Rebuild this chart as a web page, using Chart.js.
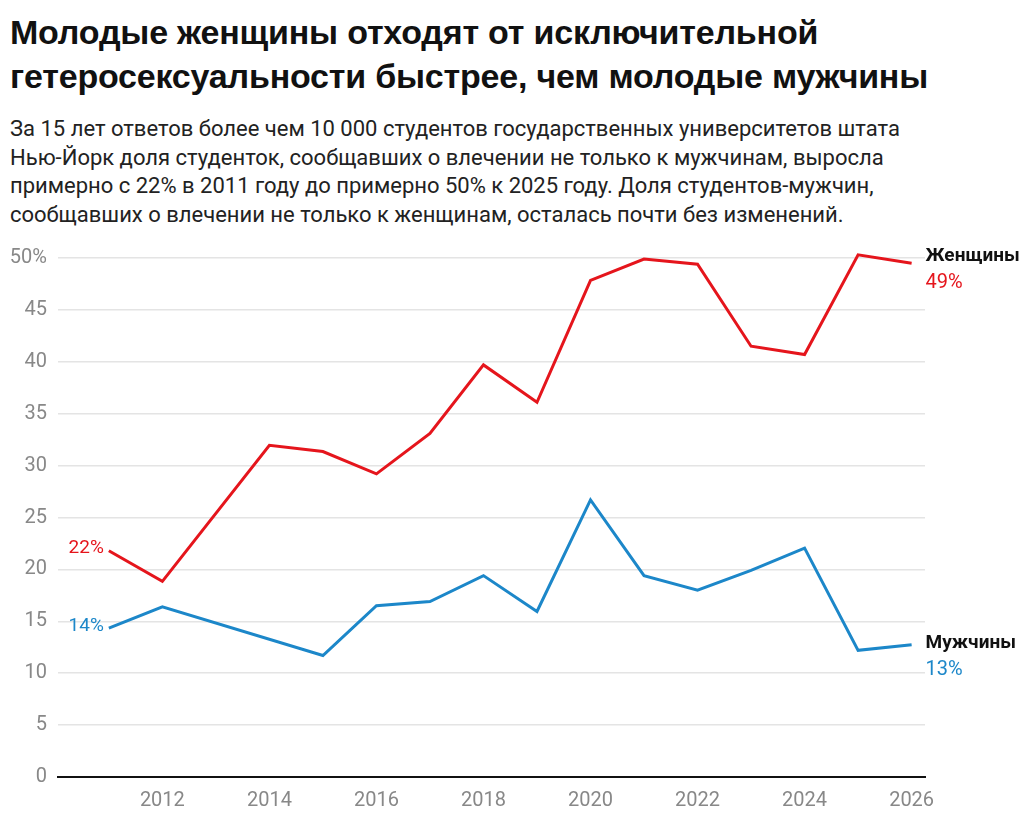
<!DOCTYPE html>
<html lang="ru">
<head>
<meta charset="utf-8">
<title>Молодые женщины</title>
<script src="https://cdn.jsdelivr.net/npm/chart.js@4"></script>
<style>
    body { margin: 0; background: #fff; width: 1024px; height: 830px; overflow: hidden; position: relative; }
    #title { position: absolute; left: 10px; top: 10px; font: bold 34px "Liberation Sans", Arial, sans-serif; line-height: 44px; color: #111; letter-spacing: -0.2px; }
    #subtitle { position: absolute; left: 10px; top: 115px; font: 22px Roboto, sans-serif; line-height: 28.5px; color: #222; }
    #wrap { position: absolute; left: 0; top: 235px; width: 1024px; height: 595px; }
</style>
</head>
<body>
<div id="title">Молодые женщины отходят от исключительной<br>гетеросексуальности быстрее, чем молодые мужчины</div>
<div id="subtitle">За 15 лет ответов более чем 10 000 студентов государственных университетов штата<br>Нью-Йорк доля студенток, сообщавших о влечении не только к мужчинам, выросла<br>примерно с 22% в 2011 году до примерно 50% к 2025 году. Доля студентов-мужчин,<br>сообщавших о влечении не только к женщинам, осталась почти без изменений.</div>
<div id="wrap"><canvas id="chart"></canvas></div>
<script>
// данные
const years = [2011, 2012, 2013, 2014, 2015, 2016, 2017, 2018, 2019, 2020, 2021, 2022, 2023, 2024, 2025, 2026];
const women = [21.8, 18.85, null, 31.95, 31.35, 29.2, 33.1, 39.7, 36.1, 47.85, 49.9, 49.4, 41.5, 40.7, 50.3, 49.5];
const men = [14.35, 16.4, null, null, 11.7, 16.5, 16.9, 19.4, 15.95, 26.7, 19.4, 18.0, 19.9, 22.05, 12.2, 12.75];
const xTicks = [2012, 2014, 2016, 2018, 2020, 2022, 2024, 2026];
const yTicks = [0, 5, 10, 15, 20, 25, 30, 35, 40, 45, 50];
const seriesNames = ["Женщины", "Мужчины"];
const startLabels = ["22%", "14%"];
const endLabels = ["49%", "13%"];

const RED = "#e5151c";
const BLUE = "#1c87c9";

function toPoints(vals) {
    return years.map((y, i) => ({ x: y, y: vals[i] }));
}

// сдвиг подписей справа относительно последней точки
const nameShift = [-7, -1];
const pctShift = [20, 25];

const lineLabels = {
    id: "lineLabels",
    afterDatasetsDraw(chart) {
        const ctx = chart.ctx;
        chart.data.datasets.forEach((ds, i) => {
            const meta = chart.getDatasetMeta(i);
            const pts = meta.data.filter(p => !p.skip);
            const first = pts[0], last = pts[pts.length - 1];
            ctx.save();
            ctx.textBaseline = "middle";
            ctx.fillStyle = ds.borderColor;
            ctx.font = "19px Roboto";
            ctx.textAlign = "right";
            ctx.fillText(startLabels[i], first.x - 5, first.y - 2);
            ctx.textAlign = "left";
            ctx.font = "bold 19px Roboto";
            ctx.fillStyle = "#111";
            ctx.fillText(seriesNames[i], last.x + 14, last.y + nameShift[i]);
            ctx.font = "20px Roboto";
            ctx.fillStyle = ds.borderColor;
            ctx.fillText(endLabels[i], last.x + 14, last.y + pctShift[i]);
            ctx.restore();
        });
    }
};

new Chart(document.getElementById("chart"), {
    type: "line",
    data: {
        datasets: [
            { label: seriesNames[0], data: toPoints(women), borderColor: RED, borderWidth: 3, pointRadius: 0, spanGaps: true, tension: 0, clip: false },
            { label: seriesNames[1], data: toPoints(men), borderColor: BLUE, borderWidth: 3, pointRadius: 0, spanGaps: true, tension: 0, clip: false }
        ]
    },
    options: {
        responsive: true,
        maintainAspectRatio: false,
        animation: false,
        layout: { padding: { top: 12, right: 99, left: 0, bottom: 0 } },
        plugins: { legend: { display: false }, tooltip: { enabled: false } },
        scales: {
            x: {
                type: "linear",
                min: 2010.05,
                max: 2026.25,
                afterBuildTicks: (s) => { s.ticks = xTicks.map(v => ({ value: v })); },
                afterFit: (s) => { s.height = 53; },
                grid: { display: false, drawTicks: false },
                border: { color: "#111", width: 2 },
                ticks: { color: "#888", font: { family: "Roboto", size: 20 }, padding: 12, maxRotation: 0,
                    callback: (v) => String(v) }
            },
            y: {
                min: 0,
                max: 50,
                afterBuildTicks: (s) => { s.ticks = yTicks.map(v => ({ value: v })); },
                afterFit: (s) => { s.width = 58; },
                grid: { color: "#e4e4e4", lineWidth: 1.5, drawTicks: false },
                border: { display: false },
                ticks: { color: "#888", font: { family: "Roboto", size: 20 }, padding: 11,
                    callback: (v) => v === 50 ? "50%" : String(v) }
            }
        }
    },
    plugins: [lineLabels]
});
</script>
</body>
</html>
